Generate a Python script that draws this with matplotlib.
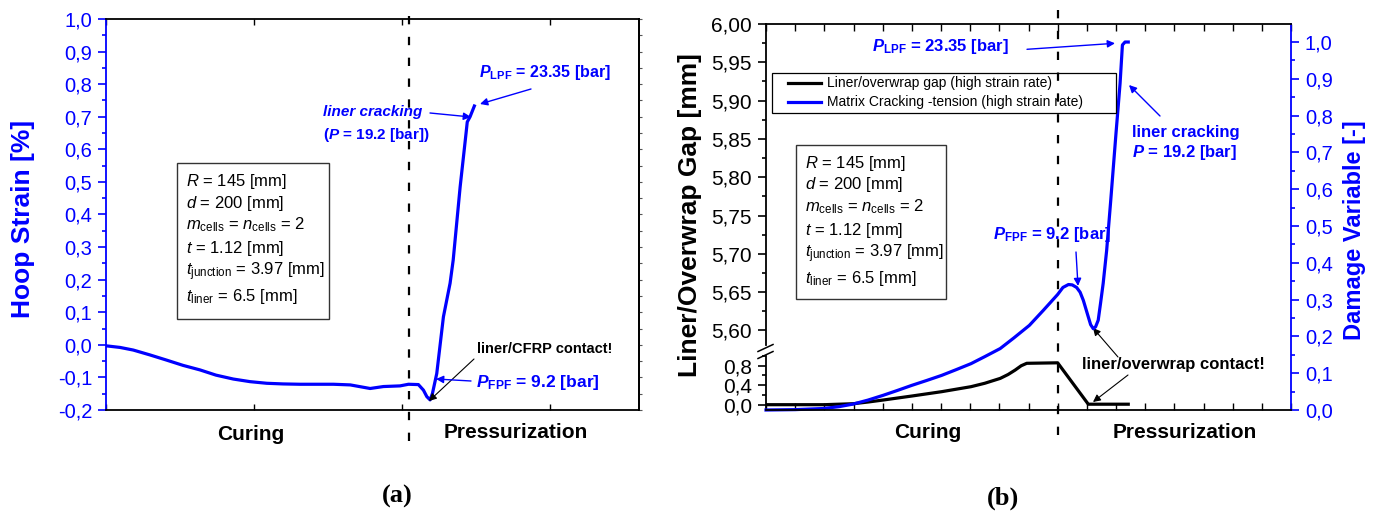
import matplotlib
matplotlib.use("Agg")
import matplotlib.pyplot as plt
import matplotlib.transforms as mtransforms
from matplotlib.lines import Line2D
from matplotlib.patches import Rectangle
from matplotlib.ticker import MultipleLocator, FuncFormatter

# ------------------ STYLE ------------------
plt.rcParams['font.family'] = ['Liberation Sans', 'DejaVu Sans']
plt.rcParams['mathtext.fontset'] = 'custom'
plt.rcParams['mathtext.rm'] = 'Liberation Sans'
plt.rcParams['mathtext.it'] = 'Liberation Sans:italic'
plt.rcParams['mathtext.bf'] = 'Liberation Sans:bold'
plt.rcParams['mathtext.bfit'] = 'Liberation Sans:italic:bold'
plt.rcParams['axes.unicode_minus'] = False
plt.rcParams['lines.scale_dashes'] = False

BLUE = '#0000ff'
W, H = 1381, 515

# ------------------ DATA (a): hoop strain ------------------
strain_t = [0.0, 0.095, 0.184, 0.297, 0.41, 0.52, 0.635, 0.743, 0.86, 0.973, 1.086, 1.196,
            1.31, 1.536, 1.65, 1.784, 1.874, 1.986, 2.043, 2.11, 2.144, 2.167, 2.189, 2.205,
            2.234, 2.279, 2.324, 2.345, 2.392, 2.432, 2.44, 2.459, 2.488]
strain = [-0.003, -0.008, -0.016, -0.031, -0.047, -0.063, -0.077, -0.093, -0.105, -0.113,
          -0.118, -0.120, -0.121, -0.121, -0.123, -0.134, -0.128, -0.126, -0.121, -0.122,
          -0.139, -0.159, -0.169, -0.149, -0.088, 0.086, 0.189, 0.26, 0.485, 0.65, 0.684,
          0.70, 0.733]
split_a = 2.047

# ------------------ DATA (b): gap + damage ------------------
gap_t = [0.0, 2.0, 3.0, 3.5, 4.02, 5.0, 6.02, 7.03, 7.5, 8.03, 8.3, 8.54, 8.75, 8.94, 10.0,
         11.05, 12.42]
gap = [0.0, 0.0, 0.02, 0.055, 0.096, 0.178, 0.267, 0.37, 0.44, 0.54, 0.62, 0.71, 0.80, 0.85,
       0.86, 0.01, 0.01]

damage_t = [0.0, 1.0, 1.96, 2.5, 2.98, 3.5, 4.02, 4.5, 5.0, 5.5, 6.02, 6.5, 7.03, 7.5, 8.03,
            8.5, 9.03, 9.51, 10.0, 10.18, 10.37, 10.5, 10.65, 10.77, 10.88, 11.05, 11.13,
            11.22, 11.3, 11.39, 11.47, 11.56, 11.68, 11.82, 12.0, 12.14, 12.22, 12.31, 12.42]
damage = [0.0, 0.001, 0.004, 0.009, 0.016, 0.027, 0.04, 0.053, 0.067, 0.08, 0.094, 0.109,
          0.126, 0.145, 0.167, 0.196, 0.23, 0.271, 0.314, 0.333, 0.341, 0.34, 0.333, 0.32,
          0.298, 0.253, 0.232, 0.221, 0.226, 0.244, 0.29, 0.344, 0.434, 0.57, 0.752, 0.888,
          0.992, 1.0, 1.0]
split_b = 10.0

legend_labels = ["Liner/overwrap gap (high strain rate)",
                 "Matrix Cracking -tension (high strain rate)"]
params = [r"$R$ = 145 [mm]",
          r"$d$ = 200 [mm]",
          r"$m_{\mathrm{cells}}$ = $n_{\mathrm{cells}}$ = 2",
          r"$t$ = 1.12 [mm]",
          r"$t_{\mathrm{junction}}$ = 3.97 [mm]",
          r"$t_{\mathrm{liner}}$ = 6.5 [mm]"]


def comma(fmt):
    def f(v, pos):
        if abs(v) < 1e-9:
            v = 0.0
        return format(v, fmt).replace('.', ',')
    return FuncFormatter(f)


def box(l, t, r, b):
    return [l / W, 1 - b / H, (r - l) / W, (b - t) / H]


fig = plt.figure(figsize=(W / 100, H / 100), dpi=100)
# pixel coordinates of the image (y downwards)
T = mtransforms.Affine2D().scale(1 / W, -1 / H).translate(0, 1) + fig.transFigure


def label(x, y, s, **kw):
    kw.setdefault('ha', 'left')
    kw.setdefault('va', 'center')
    fig.text(x, y, s, transform=T, **kw)


def arrow(x0, y0, x1, y1, color=BLUE, lw=1.0):
    fig.axes[0].annotate('', xy=(x1, y1), xycoords=T, xytext=(x0, y0), textcoords=T,
                         annotation_clip=False,
                         arrowprops=dict(arrowstyle='-|>', color=color, lw=lw,
                                         mutation_scale=11, shrinkA=0, shrinkB=0))


def param_box(l, t, r, b, x, ys):
    fig.add_artist(Rectangle((l, t), r - l, b - t, transform=T, fill=False,
                             ec='#333333', lw=1.0))
    for y, s in zip(ys, params):
        label(x, y, s, fontsize=12)


# ------------------ PANEL (a) ------------------
axa = fig.add_axes(box(106, 19, 639, 410))
axa.plot(strain_t, strain, color=BLUE, lw=2.3, solid_joinstyle='round')
axa.plot([split_a, split_a], [1.009, -0.314], color='k', lw=1.6, dashes=(6, 9), clip_on=False)
axa.set_xlim(0, 3.6)
axa.set_ylim(-0.2, 1.0)
axa.yaxis.set_major_locator(MultipleLocator(0.1))
axa.yaxis.set_minor_locator(MultipleLocator(0.05))
axa.yaxis.set_major_formatter(comma('.1f'))
axa.set_xticks([0, 1, 2, 3])
axa.tick_params(axis='x', direction='in', top=True, bottom=True, length=4, width=1,
                labelbottom=False)
axa.tick_params(axis='y', which='both', direction='out', colors=BLUE, labelsize=14.5,
                width=1.2, pad=4)
axa.tick_params(axis='y', which='major', length=6)
axa.tick_params(axis='y', which='minor', length=3)
for s in axa.spines.values():
    s.set_linewidth(1.3)
axa.spines['left'].set_color(BLUE)

axa_r = axa.twinx()
axa_r.set_ylim(-0.2, 1.0)
axa_r.yaxis.set_major_locator(MultipleLocator(0.1))
axa_r.yaxis.set_minor_locator(MultipleLocator(0.05))
axa_r.tick_params(axis='y', which='both', direction='out', length=2, width=0.8,
                  labelright=False, colors='#555555')
for k in ['left', 'top', 'bottom']:
    axa_r.spines[k].set_visible(False)
axa_r.spines['right'].set_linewidth(1.3)

label(23, 219, "Hoop Strain [%]", rotation=90, ha='center', color=BLUE,
      fontsize=19, fontweight='bold')
param_box(177, 163, 329, 319, 186, [181.7, 203.3, 225, 248.3, 271.7, 296.7])
label(323, 112, "liner cracking", color=BLUE, fontsize=11, fontweight='bold', style='italic')
label(323, 135, r"($\mathbfit{P}$ = 19.2 [bar])", color=BLUE, fontsize=11, fontweight='bold')
arrow(430, 113, 471, 117)
label(479, 73, r"$\mathbfit{P}_{\mathbf{LPF}}$ = 23.35 [bar]", color=BLUE, fontsize=11.5,
      fontweight='bold')
arrow(531, 89, 480, 104)
label(477, 349, "liner/CFRP contact!", fontsize=10.5, fontweight='bold')
arrow(474, 359, 429, 401, color='k', lw=0.8)
label(476, 382, r"$\mathbfit{P}_{\mathbf{FPF}}$ = 9.2 [bar]", color=BLUE, fontsize=12.5,
      fontweight='bold')
arrow(471, 381, 436, 379)
label(251, 434, "Curing", ha='center', fontsize=15, fontweight='bold')
label(516, 433, "Pressurization", ha='center', fontsize=15, fontweight='bold')
label(397, 496, "(a)", ha='center', fontsize=19, fontweight='bold', family='Liberation Serif')

# ------------------ PANEL (b) ------------------
ax_up = fig.add_axes(box(766, 24, 1291, 345), facecolor='none')
ax_lo = fig.add_axes(box(766, 356, 1291, 410), facecolor='none')
axb = fig.add_axes(box(766, 24, 1291, 410), facecolor='none')

ax_lo.plot(gap_t, gap, color='k', lw=2.3, solid_joinstyle='round')
axb.plot(damage_t, damage, color=BLUE, lw=2.3, solid_joinstyle='round', clip_on=False)
axb.plot([split_b, split_b], [1.087, -0.101], color='k', lw=1.6, dashes=(6, 9), clip_on=False)

for ax in (ax_up, ax_lo, axb):
    ax.set_xlim(0, 18)

ax_up.set_ylim(5.581, 6.0)
ax_up.yaxis.set_major_locator(MultipleLocator(0.05))
ax_up.yaxis.set_minor_locator(MultipleLocator(0.025))
ax_up.yaxis.set_major_formatter(comma('.2f'))
ax_lo.set_ylim(-0.109, 1.0)
ax_lo.yaxis.set_major_locator(MultipleLocator(0.4))
ax_lo.yaxis.set_minor_locator(MultipleLocator(0.2))
ax_lo.yaxis.set_major_formatter(comma('.1f'))
for ax in (ax_up, ax_lo):
    for k in ['right', 'top', 'bottom']:
        ax.spines[k].set_visible(False)
    ax.spines['left'].set_linewidth(1.3)
    ax.set_xticks([])
    ax.tick_params(axis='y', which='both', direction='out', labelsize=15, width=1.2, pad=4)
    ax.tick_params(axis='y', which='major', length=6)
    ax.tick_params(axis='y', which='minor', length=3)

axb.set_ylim(0, 1.049)
axb.yaxis.tick_right()
axb.yaxis.set_major_locator(MultipleLocator(0.1))
axb.yaxis.set_minor_locator(MultipleLocator(0.05))
axb.yaxis.set_major_formatter(comma('.1f'))
axb.tick_params(axis='y', which='both', direction='out', colors=BLUE, labelsize=14.5,
                width=1.2, pad=4)
axb.tick_params(axis='y', which='major', length=6)
axb.tick_params(axis='y', which='minor', length=3)
axb.xaxis.set_major_locator(MultipleLocator(1))
axb.tick_params(axis='x', direction='in', top=True, bottom=True, length=5, width=1,
                labelbottom=False)
axb.spines['left'].set_visible(False)
for s in axb.spines.values():
    s.set_linewidth(1.3)
axb.spines['right'].set_color(BLUE)

# axis break marks
for dy in (0, 7):
    fig.add_artist(Line2D([758, 773], [351.5 + dy, 344.5 + dy], transform=T, color='k', lw=1.1))

label(690, 215, "Liner/Overwrap Gap [mm]", rotation=90, ha='center', fontsize=19,
      fontweight='bold')
label(1355, 230, "Damage Variable [-]", rotation=90, ha='center', color=BLUE, fontsize=17,
      fontweight='bold')

# legend
fig.add_artist(Rectangle((772, 73), 344, 40, transform=T, fill=False, ec='k', lw=0.9))
for y, c, s in zip([83.3, 101.7], ['k', BLUE], legend_labels):
    fig.add_artist(Line2D([788, 821], [y, y], transform=T, color=c, lw=2.3))
    label(827, y, s, fontsize=10)

param_box(796, 145, 946, 299, 805, [163.3, 185, 206.7, 230, 253.3, 278.3])
label(872, 47, r"$\mathbfit{P}_{\mathbf{LPF}}$ = 23.35 [bar]", color=BLUE, fontsize=12,
      fontweight='bold')
arrow(1027, 49.3, 1115, 43.3)
label(1132, 132, "liner cracking", color=BLUE, fontsize=12, fontweight='bold')
label(1132, 153, r"$\mathbfit{P}$ = 19.2 [bar]", color=BLUE, fontsize=12, fontweight='bold')
arrow(1160, 116, 1129, 85)
label(993, 235, r"$\mathbfit{P}_{\mathbf{FPF}}$ = 9.2 [bar]", color=BLUE, fontsize=12,
      fontweight='bold')
arrow(1076, 252, 1078, 286)
label(1082, 365, "liner/overwrap contact!", fontsize=12, fontweight='bold')
arrow(1118, 357, 1093, 328, color='k', lw=0.8)
arrow(1128, 375, 1093, 402, color='k', lw=0.8)
label(928, 433, "Curing", ha='center', fontsize=15, fontweight='bold')
label(1185, 432, "Pressurization", ha='center', fontsize=15, fontweight='bold')
label(1003, 498, "(b)", ha='center', fontsize=19, fontweight='bold', family='Liberation Serif')

fig.savefig("out.png", dpi=100)
